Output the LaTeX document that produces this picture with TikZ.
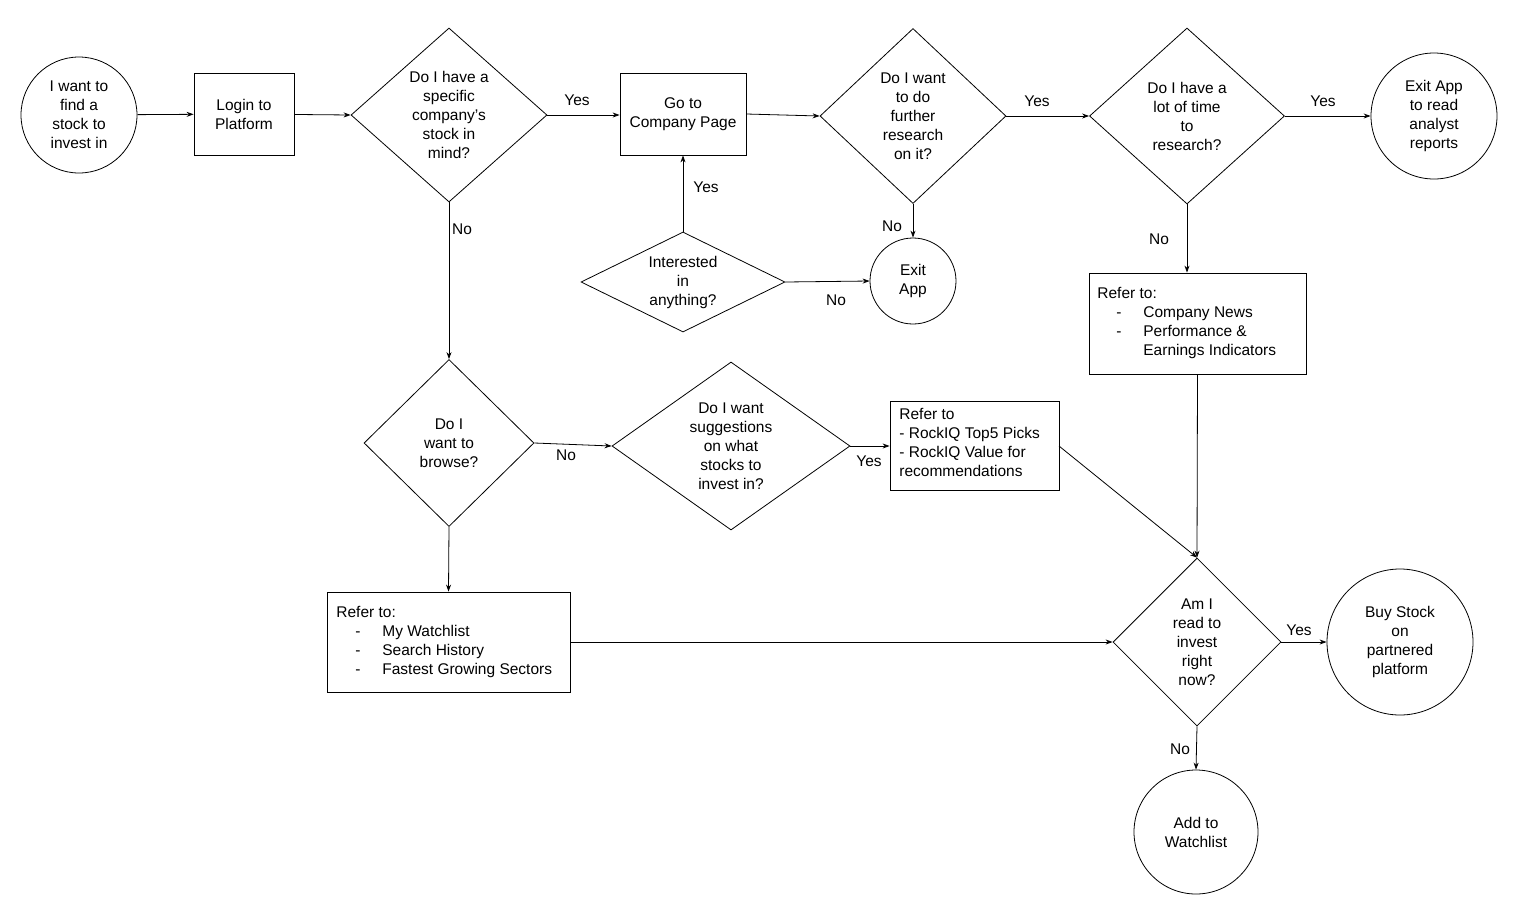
\documentclass[tikz,border=0pt]{standalone}
\usepackage{fontspec}
\setmainfont{Liberation Sans}
\usetikzlibrary{shapes.geometric,arrows.meta}
\newcommand\li[1]{\hspace*{19pt}\makebox[27pt][l]{-}#1}
\begin{document}
\begin{tikzpicture}[x=1pt,y=-1pt,line width=0.8pt,
  every node/.style={font=\fontsize{15.5}{19}\selectfont},
  circ/.style={draw,circle,inner sep=0,align=center},
  rbox/.style={draw,rectangle,inner sep=0,align=center},
  dia/.style={draw,diamond,inner sep=0},
  txt/.style={align=center,inner sep=0},
  lst/.style={align=left,inner sep=0,anchor=north west},
  lab/.style={inner sep=1pt},
  arr/.style={-{Stealth[length=7pt,width=5pt]}}]
\useasboundingbox (0,0) rectangle (1516,914);
% nodes
\node[circ,minimum size=116] (c1) at (79,115) {I want to\\find a\\stock to\\invest in};
\node[rbox,minimum width=100,minimum height=82] (login) at (244,114) {Login to\\Platform};
\node[dia,minimum width=196,minimum height=174] (d1) at (449,115) {};
\node[txt] (d1t) at (449,115) {Do I have a\\specific\\company's\\stock in\\mind?};
\node[rbox,minimum width=126,minimum height=82] (go) at (683,114) {Go to\\Company Page};
\node[dia,minimum width=186,minimum height=175] (d2) at (913,116) {};
\node[txt] (d2t) at (913,116) {Do I want\\to do\\further\\research\\on it?};
\node[dia,minimum width=195,minimum height=176] (d3) at (1187,116) {};
\node[txt] (d3t) at (1187,116) {Do I have a\\lot of time\\to\\research?};
\node[circ,minimum size=126] (exr) at (1434,116) {Exit App\\to read\\analyst\\reports};
\node[dia,minimum width=204,minimum height=100] (di) at (683,282) {};
\node[txt] (dit) at (683,282) {Interested\\in\\anything?};
\node[circ,minimum size=86] (exit) at (913,281) {Exit\\App};
\node[rbox,minimum width=217,minimum height=101] (rn) at (1197.5,323.5) {};
\node[lst] (rnt) at (1097,287) {Refer to:\\\li{Company News}\\\li{Performance \&}\\\hspace*{46pt}Earnings Indicators};
\node[dia,minimum width=170,minimum height=167] (d4) at (449,443) {};
\node[txt] (d4t) at (449,443) {Do I\\want to\\browse?};
\node[dia,minimum width=238,minimum height=168] (d5) at (731,446) {};
\node[txt] (d5t) at (731,446) {Do I want\\suggestions\\on what\\stocks to\\invest in?};
\node[rbox,minimum width=169,minimum height=89] (rq) at (974.5,445.5) {};
\node[lst] (rqt) at (899,408) {Refer to\\- RockIQ Top5 Picks\\- RockIQ Value for\\recommendations};
\node[rbox,minimum width=243,minimum height=100] (rw) at (448.5,642) {};
\node[lst] (rwt) at (336,606) {Refer to:\\\li{My Watchlist}\\\li{Search History}\\\li{Fastest Growing Sectors}};
\node[dia,minimum width=168,minimum height=168] (d6) at (1197,642) {};
\node[txt] (d6t) at (1197,642) {Am I\\read to\\invest\\right\\now?};
\node[circ,minimum size=146] (buy) at (1400,642) {Buy Stock\\on\\partnered\\platform};
\node[circ,minimum size=124] (add) at (1196,832) {Add to\\Watchlist};
\coordinate (rqe) at (1059,446);
% edges
\draw[arr] (c1) -- (login);
\draw[arr] (login) -- (d1.west);
\draw[arr] (d1.east) -- (go.west |- d1.east);
\draw[arr] (go.east) -- (d2.west);
\draw[arr] (d2.east) -- (d3.west);
\draw[arr] (d3.east) -- (exr.west);
\draw[arr] (d1.south) -- (d4.north);
\draw[arr] (d2.south) -- (exit.north);
\draw[arr] (di.north) -- (go.south);
\draw[arr] (di.east) -- (exit.west);
\draw[arr] (d3.south) -- (d3.south |- rn.north);
\draw[arr] (d4.east) -- (d5.west);
\draw[arr] (d5.east) -- (rq.west |- d5.east);
\draw[arr] (rqe) -- (d6.north);
\draw[arr] (rn.south) -- (d6.north);
\draw[arr] (d4.south) -- (rw.north);
\draw[arr] (rw.east) -- (d6.west);
\draw[arr] (d6.east) -- (buy.west);
\draw[arr] (d6.south) -- (add.north);
% labels
\node[lab] (l1) at (577,100) {Yes};
\node[lab] (l2) at (1037,101) {Yes};
\node[lab] (l3) at (1323,101) {Yes};
\node[lab] (l4) at (462,229) {No};
\node[lab] (l5) at (892,226) {No};
\node[lab] (l6) at (706,187) {Yes};
\node[lab] (l7) at (836,300) {No};
\node[lab] (l8) at (1159,239) {No};
\node[lab] (l9) at (566,455) {No};
\node[lab] (l10) at (869,461) {Yes};
\node[lab] (l11) at (1299,630) {Yes};
\node[lab] (l12) at (1180,749) {No};
\end{tikzpicture}
\end{document}
